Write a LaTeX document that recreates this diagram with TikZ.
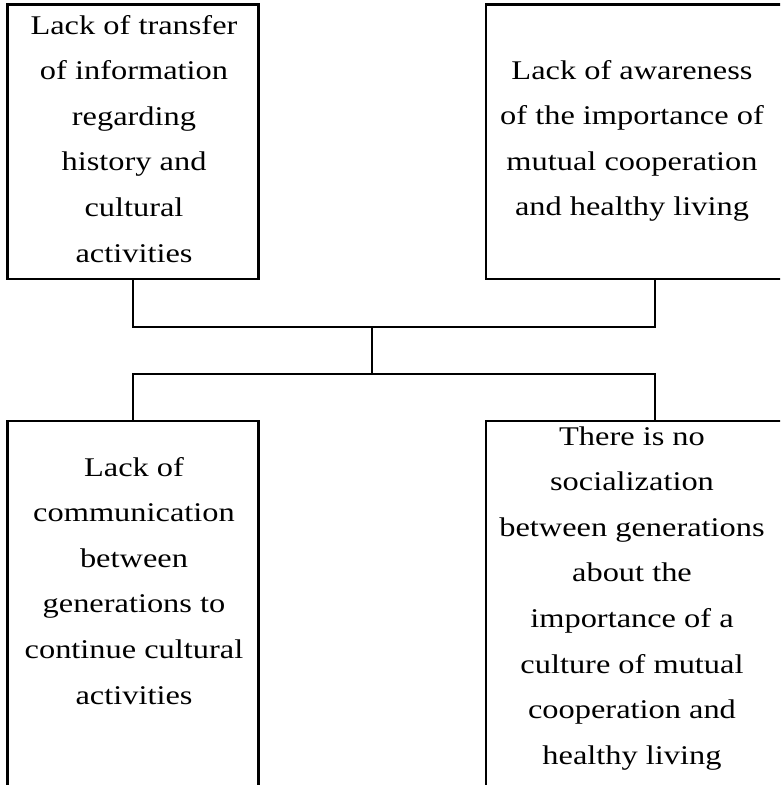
\documentclass[tikz,border=0pt]{standalone}
\usepackage{fontspec}
\setmainfont{Liberation Serif}
\usepackage{graphicx}

% one text block: lines set centred, first baseline is the reference point
\newcommand\boxlines[1]{%
  \scalebox{1.2}[1]{\parbox[t]{260pt}{\centering\fontsize{27}{45.6}\selectfont #1}}}

\tikzset{
  frame/.style={draw, line width=2.8pt, outer sep=0pt, inner sep=0pt,
                rectangle, anchor=north west},
  txt/.style={inner sep=0pt, anchor=base},
  link/.style={line width=2.6pt}
}

\begin{document}
\begin{tikzpicture}[x=1pt, y=-1pt]
  \useasboundingbox (0,0) rectangle (780,785);
  \clip (0,0) rectangle (780,785);

  % the four frames (right frames and lower frames run past the edge)
  \node[frame, minimum width=251pt, minimum height=274.5pt] (tl) at (7.5,4.5) {};
  \node[frame, minimum width=304pt, minimum height=274.5pt] (tr) at (486,4.5) {};
  \node[frame, minimum width=251pt, minimum height=380pt] (bl) at (7.5,421) {};
  \node[frame, minimum width=304pt, minimum height=380pt] (br) at (486,421) {};

  % texts
  \node[txt] (tlt) at (134,34) {\boxlines{Lack of transfer\\of information\\regarding\\history and\\cultural\\activities}};
  \node[txt] (trt) at (632,79) {\boxlines{Lack of awareness\\of the importance of\\mutual cooperation\\and healthy living}};
  \node[txt] (blt) at (134,476) {\boxlines{Lack of\\communication\\between\\generations to\\continue cultural\\activities}};
  \node[txt] (brt) at (632,445) {\boxlines{There is no\\socialization\\between generations\\about the\\importance of a\\culture of mutual\\cooperation and\\healthy living}};

  % junction points of the connector tree
  \coordinate (jt) at (372,327);
  \coordinate (jb) at (372,374);
  \coordinate (rx) at (655,0);

  \draw[link] (tl.south) |- (jt) -| (rx |- tr.south);
  \draw[link] (jt) -- (jb);
  \draw[link] (bl.north) |- (jb) -| (rx |- br.north);
\end{tikzpicture}
\end{document}
